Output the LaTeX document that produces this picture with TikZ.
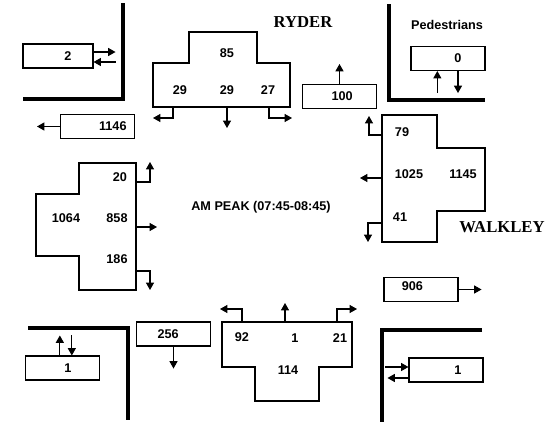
\documentclass[tikz,border=0pt]{standalone}
\usepackage{fontspec}
\setmainfont{Liberation Sans}
\newfontfamily\streetfont{Liberation Serif}
\usetikzlibrary{arrows.meta}

\begin{document}
\begin{tikzpicture}[
  x=0.75pt, y=-0.75pt,
  cnt/.style={rectangle, draw, line width=0.8pt,
              minimum width=55.5pt, minimum height=18pt, inner sep=0pt},
  num/.style={font=\fontsize{9.5}{11}\selectfont\bfseries, inner sep=1pt},
  appr/.style={draw, line width=0.8pt},
  curb/.style={draw, line width=2.6pt},
  arr/.style={-{Triangle[length=5.5pt, width=6pt]}, line width=0.8pt},
  arrin/.style={{Triangle[length=5.5pt, width=6pt]}-, line width=0.8pt},
  street/.style={font=\streetfont\fontsize{12.5}{14}\selectfont\bfseries}
]
\useasboundingbox (0,0) rectangle (554,425);

%% ── Curb corners ─────────────────────────────────────────────────────────
\draw[curb] (23,99)  -- (123,99)  -- (123,3);
\draw[curb] (389,4)  -- (389,100) -- (485,100);
\draw[curb] (28,328) -- (128,328) -- (128,420);
\draw[curb] (482,330) -- (382,330) -- (382,422);

%% ── Titles ───────────────────────────────────────────────────────────────
\node[street] (ryder)   at (303,22)  {RYDER};
\node[street] (walkley) at (502,227) {WALKLEY};
\node[num]    (peds)    at (447,25)  {Pedestrians};
\node[num]    (peak)    at (261,207) {AM PEAK (07:45-08:45)};

%% ── Approach: Ryder (north) ──────────────────────────────────────────────
\draw[appr] (153,63) -- (189,63) -- (189,32) -- (257,32) -- (257,63)
         -- (290,63) -- (290,107) -- (153,107) -- cycle;
\node[num] (ry-thru-in) at (227,53) {85};
\node[num] (ry-r)       at (180,90) {29};
\node[num] (ry-t)       at (227,90) {29};
\node[num] (ry-lt)      at (268,90) {27};
\coordinate (ry-a) at (173,107);
\coordinate (ry-b) at (227,107);
\coordinate (ry-c) at (269,107);

%% ── Approach: west ───────────────────────────────────────────────────────
\draw[appr] (79,163) -- (136,163) -- (136,290) -- (79,290) -- (79,256)
         -- (36,256) -- (36,194) -- (79,194) -- cycle;
\node[num] (we-lt)  at (120,177) {20};
\node[num] (we-in)  at (66,218)  {1064};
\node[num] (we-t)   at (117,218) {858};
\node[num] (we-r)   at (117,259) {186};
\coordinate (we-a) at (136,182);
\coordinate (we-b) at (136,227);
\coordinate (we-c) at (136,271);

%% ── Approach: Walkley (east) ─────────────────────────────────────────────
\draw[appr] (382,115) -- (437,115) -- (437,148) -- (485,148) -- (485,211)
         -- (437,211) -- (437,242) -- (382,242) -- cycle;
\node[num] (wa-r)  at (402,132) {79};
\node[num] (wa-t)  at (409,174) {1025};
\node[num] (wa-in) at (463,174) {1145};
\node[num] (wa-lt) at (400,217) {41};
\coordinate (wa-a) at (382,135);
\coordinate (wa-b) at (382,178);
\coordinate (wa-c) at (382,223);

%% ── Approach: south ──────────────────────────────────────────────────────
\draw[appr] (222,322) -- (352,322) -- (352,367) -- (319,367) -- (319,401)
         -- (255,401) -- (255,367) -- (222,367) -- cycle;
\node[num] (so-lt) at (242,337) {92};
\node[num] (so-t)  at (295,338) {1};
\node[num] (so-r)  at (340,338) {21};
\node[num] (so-in) at (288,370) {114};
\coordinate (so-a) at (242,322);
\coordinate (so-b) at (285,322);
\coordinate (so-c) at (337,322);

%% ── Leg totals and pedestrians ───────────────────────────────────────────
\node[cnt, minimum width=52.5pt, label={[num, xshift=7.5pt]center:2}]   (nw-ped) at (58,56)     {};
\node[cnt, label={[num, xshift=11.5pt]center:1146}]                     (w-out)  at (97.5,126.5) {};
\node[cnt, label={[num, xshift=7.5pt]center:0}]                         (ne-ped) at (448,58.5)  {};
\node[cnt, label={[num, xshift=2pt]center:100}]                         (n-out)  at (339.5,96.5) {};
\node[cnt, label={[num, xshift=-6.5pt, yshift=2.5pt]center:906}]        (e-out)  at (421,289.5) {};
\node[cnt, label={[num, xshift=-4pt]center:256}]                        (s-out)  at (173.5,334) {};
\node[cnt, label={[num, xshift=4pt]center:1}]                           (sw-ped) at (62.5,368)  {};
\node[cnt, label={[num, xshift=9pt]center:1}]                           (se-ped) at (446,370)   {};

%% ── Turning arrows ───────────────────────────────────────────────────────
\draw[arr] (ry-a) |- ++(-20,11);
\draw[arr] (ry-b) -- ++(0,21);
\draw[arr] (ry-c) |- ++(23,11);
\draw[arr] (we-a) -| ++(14,-20);
\draw[arr] (we-b) -- ++(21,0);
\draw[arr] (we-c) -| ++(14,19);
\draw[arr] (wa-a) -| ++(-13,-19);
\draw[arr] (wa-b) -- ++(-22,0);
\draw[arr] (wa-c) -| ++(-14,19);
\draw[arr] (so-a) |- ++(-22,-13);
\draw[arr] (so-b) -- ++(0,-19);
\draw[arr] (so-c) |- ++(20,-13);

%% ── Box arrows ───────────────────────────────────────────────────────────
\draw[arr]   ([yshift=3pt]nw-ped.east)   -- ++(22,0);
\draw[arrin] ([yshift=-4.5pt]nw-ped.east) -- ++(22,0);
\draw[arr]   (w-out.west)  -- ++(-23,0);
\draw[arrin] ([xshift=-8pt]ne-ped.south) -- ++(0,22);
\draw[arr]   ([xshift=7.5pt]ne-ped.south) -- ++(0,22);
\draw[arr]   (n-out.north) -- ++(0,-20);
\draw[arr]   (e-out.east)  -- ++(23,0);
\draw[arr]   (s-out.south) -- ++(0,22);
\draw[arr]   ([xshift=-2pt]sw-ped.north) -- ++(0,-20);
\draw[arrin] ([xshift=7pt]sw-ped.north)  -- ++(0,-20);
\draw[arrin] ([yshift=2.25pt]se-ped.west) -- ++(-23,0);
\draw[arr]   ([yshift=-6pt]se-ped.west)  -- ++(-21,0);

\end{tikzpicture}
\end{document}
